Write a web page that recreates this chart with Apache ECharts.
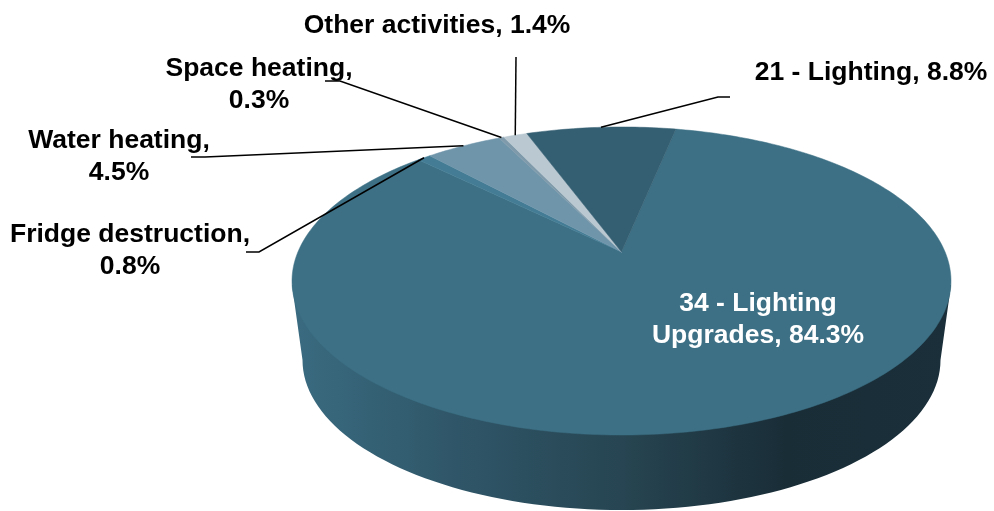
<!DOCTYPE html>
<html>
<head>
<meta charset="utf-8">
<title>Savings by measure</title>
<script src="https://cdn.jsdelivr.net/npm/echarts@6/dist/echarts.min.js"></script>
<style>
  html, body { margin: 0; padding: 0; background: #fff; }
  #chart { width: 994px; height: 511px; }
</style>
</head>
<body>
<div id="chart"></div>
<script>
// slices in clockwise order, starting from the big one
const categories = ['34 - Lighting Upgrades', 'Fridge destruction', 'Water heating', 'Space heating', 'Other activities', '21 - Lighting']
const shares = [84.3, 0.8, 4.5, 0.3, 1.4, 8.8]
const labels = [
  '34 - Lighting\nUpgrades, 84.3%',
  'Fridge destruction,\n0.8%',
  'Water heating,\n4.5%',
  'Space heating,\n0.3%',
  'Other activities, 1.4%',
  '21 - Lighting, 8.8%'
]
const colors = ['#3d7085', '#437c94', '#6f95ab', '#7f9bab', '#b9c8d1', '#345f72']

// layout, index matches categories
const labelPos = [[758, 320], [130, 251], [119, 157], [259, 85], [437, 26], [871, 73]]
const elbows = [null, [[259, 252], [246, 252]], [[205, 157], [191, 157]], [[340, 81], [325, 81]], [[516, 57]], [[718, 97], [730, 97]]]
const startAngle = 11.5

// the tilted disc is a circle under a perspective map, so the hub sits above the ellipse centre
const disc = { cx: 621.5, hubY: 252, k: 323.6, a: -101.1, c: 0.1883 }
const total = shares.reduce((s, v) => s + v, 0)

function rim(deg, r = 1) {
  const t = deg * Math.PI / 180
  const u = r * Math.sin(t)
  const v = r * Math.cos(t)
  const w = 1 + disc.c * v
  return [disc.cx + disc.k * u / w, (disc.hubY + disc.a * v) / w]
}

function sliceRange(idx) {
  let from = startAngle
  for (let i = 0; i < idx; i++) from += shares[i] / total * 360
  return [from, from + shares[idx] / total * 360]
}

function renderWall() {
  const pts = [[292, 285]]
  for (let d = 180; d >= 0; d -= 2) {
    const t = d * Math.PI / 180
    pts.push([disc.cx + 319 * Math.cos(t), 360 + 150 * Math.sin(t)])
  }
  pts.push([951, 285])
  return {
    type: 'polygon',
    shape: { points: pts },
    style: {
      fill: new echarts.graphic.LinearGradient(0, 0, 1, 0, [
        { offset: 0, color: '#3a6b80' },
        { offset: 0.25, color: '#2f5668' },
        { offset: 0.5, color: '#274552' },
        { offset: 0.75, color: '#192d37' },
        { offset: 1, color: '#1a2f3a' }
      ])
    }
  }
}

function renderSlice(params, api) {
  const idx = params.dataIndex
  const [from, to] = sliceRange(idx)
  const pts = [rim(0, 0)]
  for (let d = from; d < to; d += 1) pts.push(rim(d))
  pts.push(rim(to))
  return {
    type: 'polygon',
    shape: { points: pts },
    style: { fill: colors[idx], stroke: colors[idx], lineWidth: 0.5 }
  }
}

function renderLabel(params, api) {
  const idx = params.dataIndex
  const children = []
  if (elbows[idx]) {
    const [from, to] = sliceRange(idx)
    children.push({
      type: 'polyline',
      shape: { points: [rim((from + to) / 2)].concat(elbows[idx]) },
      style: { fill: null, stroke: '#000', lineWidth: 1.5 }
    })
  }
  children.push({
    type: 'text',
    x: labelPos[idx][0],
    y: labelPos[idx][1],
    style: {
      text: labels[idx],
      fill: idx === 0 ? '#fff' : '#000',
      font: 'bold 26.5px "Liberation Sans", Arial, sans-serif',
      lineHeight: 32,
      align: 'center',
      verticalAlign: 'middle'
    }
  })
  return { type: 'group', children: children }
}

const sliceData = categories.map((name, i) => ({ name: name, value: shares[i] }))

const chart = echarts.init(document.getElementById('chart'), null, { renderer: 'canvas' })
chart.setOption({
  animation: false,
  backgroundColor: '#fff',
  series: [
    { type: 'custom', coordinateSystem: 'none', renderItem: renderWall, data: [1], z: 1, silent: true },
    { type: 'custom', coordinateSystem: 'none', renderItem: renderSlice, data: sliceData, z: 2 },
    { type: 'custom', coordinateSystem: 'none', renderItem: renderLabel, data: sliceData, z: 3, silent: true }
  ]
})
</script>
</body>
</html>
